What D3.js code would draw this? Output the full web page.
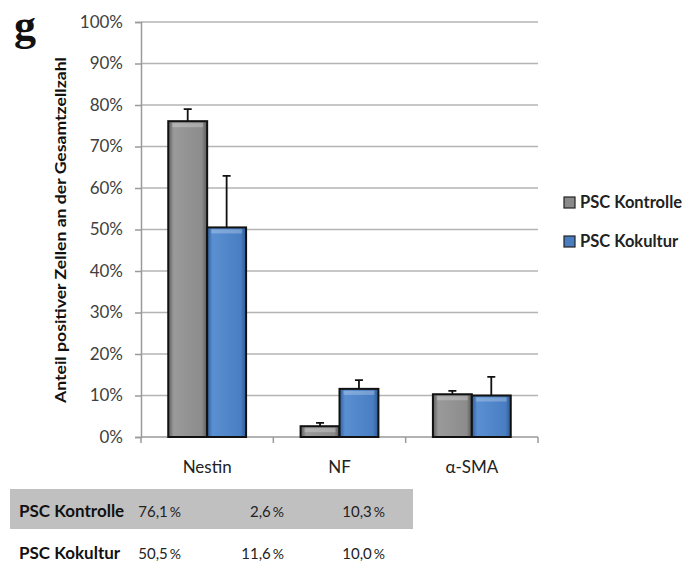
<!DOCTYPE html>
<html>
<head>
<meta charset="utf-8">
<script src="https://cdn.jsdelivr.net/npm/d3@7"></script>
<style>
  body { margin: 0; background: #fff; }
  svg { display: block; font-family: Lato, "Open Sans", sans-serif; }
</style>
</head>
<body>
<div id="chart"></div>
<script>
// chart values
const categories = ["Nestin", "NF", "\u03b1-SMA"];
const seriesNames = ["PSC Kontrolle", "PSC Kokultur"];
const kontrolle = [76.1, 2.6, 10.3];
const kokultur = [50.5, 11.6, 10.0];
const kontrolleErr = [2.9, 0.8, 0.8];
const kokulturErr = [12.4, 2.1, 4.5];
const yTicks = [0, 10, 20, 30, 40, 50, 60, 70, 80, 90, 100];

const colors = { "PSC Kontrolle": "#8a8a8a", "PSC Kokultur": "#4a7dc0" };

const svg = d3.select("#chart").append("svg")
  .attr("width", 689)
  .attr("height", 565);

// gradients for the bevelled bar look
const defs = svg.append("defs");
const grads = [
  { id: "gGray", stops: ["#5c5c5c", "#9a9a9a", "#8c8c8c", "#5a5a5a"] },
  { id: "gBlue", stops: ["#2f5f9c", "#5a8fd2", "#4a7ec2", "#2c5a94"] }
];
grads.forEach(g => {
  const lg = defs.append("linearGradient").attr("id", g.id);
  [0, 0.14, 0.86, 1].forEach((o, i) => {
    lg.append("stop").attr("offset", o).attr("stop-color", g.stops[i]);
  });
});
const fillFor = { "PSC Kontrolle": "url(#gGray)", "PSC Kokultur": "url(#gBlue)" };

const plot = { left: 141, right: 538, top: 22, bottom: 437 };

const y = d3.scaleLinear().domain([0, 100]).range([plot.bottom, plot.top]);
const x0 = d3.scaleBand().domain(categories).range([plot.left, plot.right]);
const x1 = d3.scaleBand().domain(seriesNames).range([0, x0.bandwidth()])
  .paddingInner(0).paddingOuter(0.7);

// gridlines
svg.append("g")
  .selectAll("line")
  .data(yTicks.filter(d => d > 0))
  .enter().append("line")
  .attr("x1", plot.left).attr("x2", plot.right)
  .attr("y1", d => y(d)).attr("y2", d => y(d))
  .attr("stroke", "#b4b4b4")
  .attr("stroke-width", 1.5);

// y axis
const yAxis = svg.append("g")
  .attr("transform", `translate(${plot.left},0)`)
  .call(d3.axisLeft(y).tickValues(yTicks).tickFormat(d => d + "%").tickSize(6).tickPadding(12));
yAxis.select(".domain").attr("stroke", "#9a9a9a").attr("stroke-width", 1.5);
yAxis.selectAll(".tick line").attr("stroke", "#9a9a9a").attr("stroke-width", 1.5);
yAxis.selectAll(".tick text")
  .attr("fill", "#404040")
  .style("font-size", "17px")
  .style("font-family", "Lato, sans-serif");

// x axis (tick marks at category boundaries)
const bounds = categories.map(c => x0(c)).concat([plot.right]);
svg.append("line")
  .attr("x1", plot.left).attr("x2", plot.right)
  .attr("y1", plot.bottom).attr("y2", plot.bottom)
  .attr("stroke", "#9a9a9a").attr("stroke-width", 1.5);
svg.append("g").selectAll("line")
  .data(bounds)
  .enter().append("line")
  .attr("x1", d => d).attr("x2", d => d)
  .attr("y1", plot.bottom).attr("y2", plot.bottom + 6)
  .attr("stroke", "#9a9a9a").attr("stroke-width", 1.5);

// bars
const rows = categories.map((c, i) => ({
  cat: c,
  vals: [
    { s: seriesNames[0], v: kontrolle[i], e: kontrolleErr[i] },
    { s: seriesNames[1], v: kokultur[i], e: kokulturErr[i] }
  ]
}));

const groups = svg.append("g").selectAll("g")
  .data(rows)
  .enter().append("g")
  .attr("transform", d => `translate(${x0(d.cat)},0)`);

// error bars (upward only)
groups.selectAll(".err")
  .data(d => d.vals)
  .enter().append("path")
  .attr("class", "err")
  .attr("d", d => {
    const cx = x1(d.s) + x1.bandwidth() / 2;
    const top = y(d.v + d.e);
    return `M${cx},${y(d.v)}V${top}M${cx - 4},${top}H${cx + 4}`;
  })
  .attr("stroke", "#111")
  .attr("stroke-width", 1.8)
  .attr("fill", "none");

groups.selectAll(".bar")
  .data(d => d.vals)
  .enter().append("rect")
  .attr("class", "bar")
  .attr("x", d => x1(d.s))
  .attr("y", d => y(d.v))
  .attr("width", x1.bandwidth())
  .attr("height", d => y(0) - y(d.v))
  .attr("fill", d => fillFor[d.s])
  .attr("stroke", "#111")
  .attr("stroke-width", 2);

// top highlight strip for bevel
groups.selectAll(".hl")
  .data(d => d.vals)
  .enter().append("rect")
  .attr("class", "hl")
  .attr("x", d => x1(d.s) + 4)
  .attr("y", d => y(d.v) + 2)
  .attr("width", x1.bandwidth() - 8)
  .attr("height", d => Math.min(4, y(0) - y(d.v) - 4))
  .attr("fill", "#fff")
  .attr("opacity", 0.25);

// category labels
svg.append("g").selectAll("text")
  .data(categories)
  .enter().append("text")
  .attr("x", d => x0(d) + x0.bandwidth() / 2)
  .attr("y", 473)
  .attr("text-anchor", "middle")
  .attr("fill", "#222")
  .style("font-size", "17px")
  .text(d => d);

// y title
svg.append("text")
  .attr("transform", `translate(66,230) rotate(-90)`)
  .attr("text-anchor", "middle")
  .attr("fill", "#111")
  .attr("textLength", 346)
  .attr("lengthAdjust", "spacingAndGlyphs")
  .style("font-size", "15.5px")
  .style("font-weight", "bold")
  .text("Anteil positiver Zellen an der Gesamtzellzahl");

// panel letter
svg.append("text")
  .attr("x", 14)
  .attr("y", 40)
  .style("font-family", "'Liberation Serif', serif")
  .style("font-size", "44px")
  .style("font-weight", "bold")
  .attr("fill", "#111")
  .text("g");

// legend
const legend = svg.append("g").selectAll("g")
  .data(seriesNames)
  .enter().append("g")
  .attr("transform", (d, i) => `translate(564,${197 + i * 39})`);
legend.append("rect")
  .attr("width", 11).attr("height", 11)
  .attr("fill", d => colors[d])
  .attr("stroke", "#222").attr("stroke-width", 1.2);
legend.append("text")
  .attr("x", 16).attr("y", 11)
  .attr("fill", "#222")
  .style("font-size", "16.5px")
  .style("font-weight", "bold")
  .text(d => d);

// table below
const fmt = v => v.toFixed(1).replace(".", ",");
const colRight = [181, 284, 385];
const tableRows = [
  { name: seriesNames[0], vals: kontrolle, base: 517 },
  { name: seriesNames[1], vals: kokultur, base: 559 }
];
svg.append("rect")
  .attr("x", 10).attr("y", 489)
  .attr("width", 403).attr("height", 40)
  .attr("fill", "#c0c0c0");
tableRows.forEach(r => {
  svg.append("text")
    .attr("x", 19).attr("y", r.base)
    .attr("fill", "#111")
    .style("font-size", "17px")
    .style("font-weight", "bold")
    .text(r.name);
  const cells = svg.append("g").selectAll("text")
    .data(r.vals)
    .enter().append("text")
    .attr("x", (d, i) => colRight[i])
    .attr("y", r.base)
    .attr("text-anchor", "end")
    .attr("fill", "#222")
    .style("font-size", "15px");
  cells.append("tspan").text(d => fmt(d));
  cells.append("tspan").attr("dx", 2).style("font-size", "14px").text("%");
});
</script>
</body>
</html>
